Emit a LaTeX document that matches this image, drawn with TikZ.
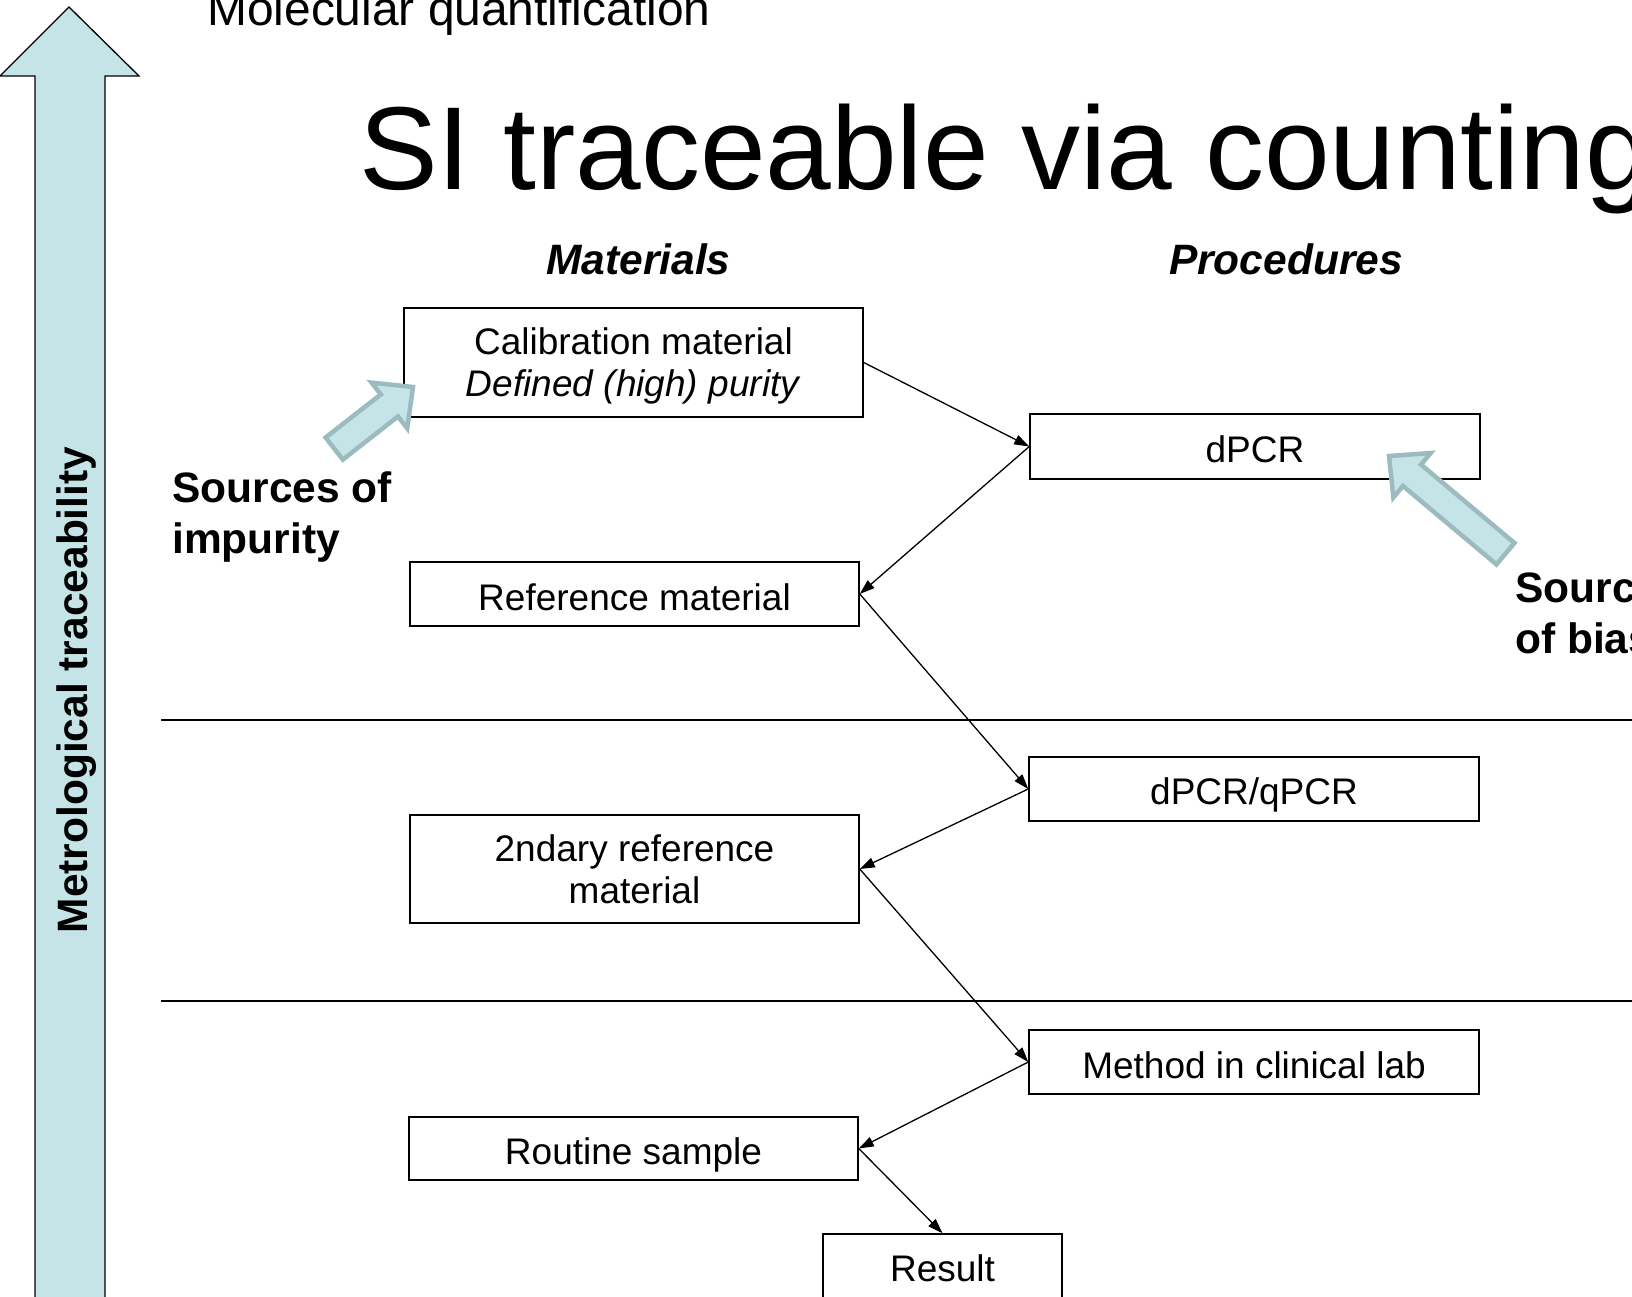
\documentclass[tikz,border=0pt]{standalone}
\usepackage{fontspec}
\setmainfont{Liberation Sans}
\usetikzlibrary{arrows.meta}
\definecolor{aqua}{RGB}{196,228,231}
\definecolor{aquaedge}{RGB}{155,187,190}
\begin{document}
\begin{tikzpicture}[x=1pt,y=-1pt,
  box/.style={draw, line width=1.5pt, inner sep=0pt, align=center,
    font=\fontsize{37}{42}\selectfont},
  sbox/.style={box, text height=34pt, text depth=2pt},
  conn/.style={-{Triangle[length=15pt,width=10pt]}, line width=1.3pt},
  bold/.style={inner sep=0pt, font=\fontsize{42.5}{51}\selectfont\bfseries},
  sep/.style={line width=2pt},
  blockarrow/.style={fill=aqua, draw=aquaedge, line width=4.5pt, line join=miter},
  bigarrow/.style={fill=aqua, draw=black, line width=1.3pt}]
\useasboundingbox (0,0) rectangle (1632,1297);
\clip (0,0) rectangle (1632,1297);

% big traceability arrow
\draw[bigarrow] (69,7) -- (139,76) -- (105,76) -- (105,1310) -- (35,1310) -- (35,76) -- (0,76) -- cycle;
\node[bold, rotate=90, anchor=base] (metro) at (87,690) {Metrological traceability};

% titles
\node[anchor=base west, inner sep=0pt, font=\fontsize{47.9}{57}\selectfont] (sub) at (207,26) {Molecular quantification};
\node[anchor=base west, inner sep=0pt, font=\fontsize{118}{140}\selectfont] (title) at (359,190) {SI traceable via counting};
\node[bold, anchor=base, font=\fontsize{42.5}{51}\selectfont\bfseries\itshape] (mat) at (638.5,275) {Materials};
\node[bold, anchor=base, font=\fontsize{42.5}{51}\selectfont\bfseries\itshape] (proc) at (1286,275) {Procedures};

% separators
\draw[sep] (161,720) -- (1632,720);
\draw[sep] (161,1001) -- (1632,1001);

% boxes
\node[box, text depth=0pt, minimum width=459pt, minimum height=109pt] (cal) at (633.5,362.5) {Calibration material\\\textit{Defined (high) purity}};
\node[sbox, minimum width=450pt, minimum height=65pt] (dpcr) at (1255,446.5) {dPCR};
\node[sbox, minimum width=449pt, minimum height=64pt] (ref) at (634.5,594) {Reference material};
\node[sbox, text height=32pt, minimum width=450pt, minimum height=64pt] (dq) at (1254,789) {dPCR/qPCR};
\node[box, minimum width=449pt, minimum height=108pt] (sec) at (634.5,869) {2ndary reference\\material};
\node[sbox, minimum width=450pt, minimum height=64pt] (meth) at (1254,1062) {Method in clinical lab};
\node[sbox, minimum width=449pt, minimum height=63pt] (rout) at (633.5,1148.5) {Routine sample};
\node[sbox, text height=17pt, minimum width=239pt, minimum height=80pt] (res) at (942.5,1274) {Result};

% connectors
\draw[conn] (cal.east) -- (dpcr.west);
\draw[conn] (dpcr.west) -- (ref.east);
\draw[conn] (ref.east) -- (dq.west);
\draw[conn] (dq.west) -- (sec.east);
\draw[conn] (sec.east) -- (meth.west);
\draw[conn] (meth.west) -- (rout.east);
\draw[conn] (rout.east) -- (res.north);

% sources labels
\node[bold, anchor=base west, align=left] (simp) at (172,553) {Sources of\\impurity};
\node[bold, anchor=base west, align=left] (sbias) at (1515,653) {Sources\\of bias};

% small block arrows
\begin{scope}[shift={(413,387)}, rotate=38]
  \draw[blockarrow] (0,0) -- (-30,29) -- (-30,14) -- (-100,14) -- (-100,-14) -- (-30,-14) -- (-30,-29) -- cycle;
\end{scope}
\begin{scope}[shift={(1389,456)}, rotate=140]
  \draw[blockarrow] (0,0) -- (-30,29) -- (-30,14) -- (-152,14) -- (-152,-14) -- (-30,-14) -- (-30,-29) -- cycle;
\end{scope}
\end{tikzpicture}
\end{document}
